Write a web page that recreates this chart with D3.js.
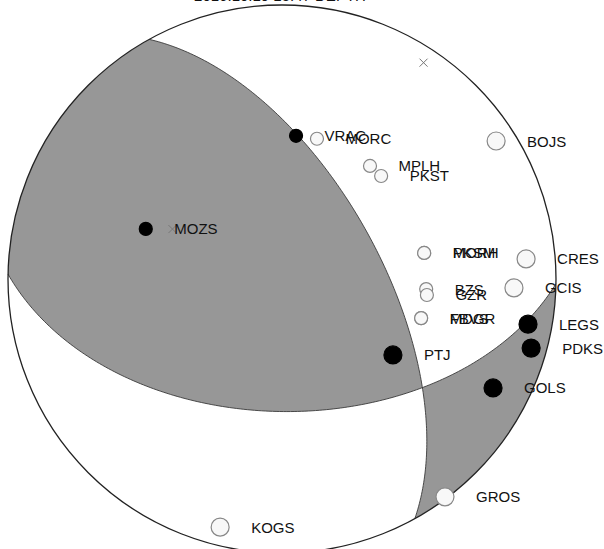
<!DOCTYPE html>
<html>
<head>
<meta charset="utf-8">
<script src="https://cdn.jsdelivr.net/npm/d3@7"></script>
<style>
html,body{margin:0;padding:0;background:#fff;}
svg{display:block;}
</style>
</head>
<body>
<svg id="chart" width="604" height="549"></svg>
<script>
// ---- data ----
const titleText = "2016.10.19 15:47 DEPTH";
// nodal planes: strike, dip (degrees)
const planeStrikes = [331, 91];
const planeDips = [61, 50];
// P / T axes: azimuth, plunge
const axisNames = ["P", "T"];
const axisAzimuths = [33.2, 294.5];
const axisPlunges = [6.3, 53.8];
// stations
const stationNames = ["VRAC","MORC","MPLH","PKST","BOJS","MOZS","PKSM","MORH","CRES","BZS","GZR","GCIS","FBVS","MDGR","LEGS","PDKS","PTJ","GOLS","GROS","KOGS"];
const stationAzimuths = [5.6,14.0,37.9,43.9,57.2,290.2,79.6,79.6,85.3,94.0,96.3,92.2,105.7,105.7,100.4,105.5,124.4,117.3,143.2,194.0];
const stationTakeoffs = [43.6,43.8,43.4,43.3,82.2,44.0,43.8,43.8,78.4,43.8,44.2,73.6,43.8,43.8,80.4,83.7,40.6,75.6,89.2,82.6];
const stationPolarities = ["C","D","D","D","D","C","D","D","D","D","D","D","D","D","C","C","C","C","D","D"];
const stationPhases = ["Pn","Pn","Pn","Pn","Pg","Pn","Pn","Pn","Pg","Pn","Pn","Pg","Pn","Pn","Pg","Pg","Pg","Pg","Pg","Pg"];

// ---- layout ----
const cx = 282, cy = 279, R = 274;
const svg = d3.select("#chart");
const xs = d3.scaleLinear().domain([-1, 1]).range([cx - R, cx + R]);
const ys = d3.scaleLinear().domain([-1, 1]).range([cy + R, cy - R]);
const rad = Math.PI / 180;
const sizeScale = d3.scaleOrdinal().domain(["Pn", "Pg"]).range([6.5, 9]);

// equal-area lower-hemisphere projection of (azimuth, plunge)
function proj(az, plunge) {
  const r = Math.SQRT2 * Math.sin((90 - plunge) / 2 * rad);
  return [xs(r * Math.sin(az * rad)), ys(r * Math.cos(az * rad))];
}
function planePts(strike, dip) {
  const pts = [];
  const S = [Math.sin(strike * rad), Math.cos(strike * rad), 0];
  const D = [Math.sin((strike + 90) * rad), Math.cos((strike + 90) * rad), 0];
  for (let t = 0; t <= 180; t += 1) {
    const c = Math.cos(t * rad), s = Math.sin(t * rad);
    const e = c * S[0] + s * Math.cos(dip * rad) * D[0];
    const n = c * S[1] + s * Math.cos(dip * rad) * D[1];
    const d = s * Math.sin(dip * rad);
    const pl = Math.asin(Math.max(-1, Math.min(1, d))) / rad;
    const az = Math.atan2(e, n) / rad;
    pts.push(proj(az, pl));
  }
  return pts;
}
function rimPts(a0, a1) {
  const pts = [];
  const n = 180;
  for (let i = 0; i <= n; i++) {
    const a = a0 + (a1 - a0) * i / n;
    pts.push(proj(a, 0));
  }
  return pts;
}
const line = d3.line();
function halfPath(strike, dip, dipSide) {
  const curve = planePts(strike, dip);
  const rim = dipSide ? rimPts(strike + 180, strike) : rimPts(strike + 180, strike + 360);
  return line(curve.concat(rim)) + "Z";
}

const defs = svg.append("defs");
defs.append("clipPath").attr("id", "nonDipB")
  .append("path").attr("d", halfPath(planeStrikes[1], planeDips[1], false));
defs.append("clipPath").attr("id", "dipB")
  .append("path").attr("d", halfPath(planeStrikes[1], planeDips[1], true));

// background
svg.append("circle").attr("cx", cx).attr("cy", cy).attr("r", R).attr("fill", "#fff");

// compressional quadrants
const gray = "#979797";
svg.append("path").attr("d", halfPath(planeStrikes[0], planeDips[0], false))
  .attr("fill", gray).attr("clip-path", "url(#nonDipB)");
svg.append("path").attr("d", halfPath(planeStrikes[0], planeDips[0], true))
  .attr("fill", gray).attr("clip-path", "url(#dipB)");

// nodal planes
planeStrikes.forEach((s, i) => {
  svg.append("path").attr("d", line(planePts(s, planeDips[i])))
    .attr("fill", "none").attr("stroke", "#3a3a3a").attr("stroke-width", 0.9);
});

// outer circle
svg.append("circle").attr("cx", cx).attr("cy", cy).attr("r", R)
  .attr("fill", "none").attr("stroke", "#222").attr("stroke-width", 1.3);

// P/T axes
axisNames.forEach((nm, i) => {
  const [px, py] = proj(axisAzimuths[i], axisPlunges[i]);
  const k = 4;
  svg.append("path")
    .attr("d", `M${px - k},${py - k}L${px + k},${py + k}M${px - k},${py + k}L${px + k},${py - k}`)
    .attr("stroke", "#777").attr("stroke-width", 1).attr("fill", "none");
});

// stations
const stations = stationNames.map((n, i) => {
  const [px, py] = proj(stationAzimuths[i], 90 - stationTakeoffs[i]);
  return { name: n, x: px, y: py, pol: stationPolarities[i], r: sizeScale(stationPhases[i]) };
});
svg.selectAll("circle.st").data(stations).enter().append("circle")
  .attr("class", "st")
  .attr("cx", d => d.x).attr("cy", d => d.y).attr("r", d => d.r)
  .attr("fill", d => d.pol === "C" ? "#000" : "#f8f8f8")
  .attr("stroke", d => d.pol === "C" ? "#000" : "#888")
  .attr("stroke-width", 1.2);
svg.selectAll("text.lb").data(stations).enter().append("text")
  .attr("class", "lb")
  .attr("x", d => d.x + d.r + 22).attr("y", d => d.y + 5.5)
  .attr("font-family", "Liberation Sans, Arial, sans-serif")
  .attr("font-size", 15).attr("fill", "#111")
  .text(d => d.name);

// title (clipped at top)
svg.append("text").attr("x", 280).attr("y", 1)
  .attr("text-anchor", "middle")
  .attr("font-family", "Liberation Sans, Arial, sans-serif")
  .attr("font-size", 15).attr("fill", "#111")
  .text(titleText);
</script>
</body>
</html>
